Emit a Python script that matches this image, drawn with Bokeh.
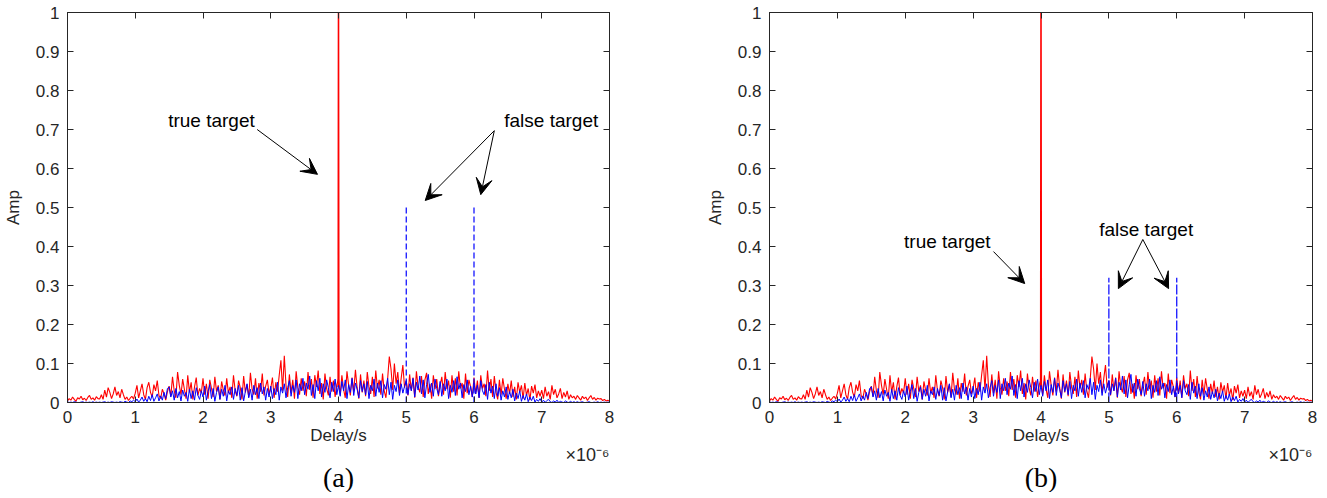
import numpy as np
from bokeh.plotting import figure
from bokeh.layouts import row
from bokeh.models import Range1d, LinearAxis, FixedTicker, Label, Arrow, VeeHead, Title
from bokeh.embed import file_html
from bokeh.resources import INLINE

# ---------------- data (amplitudes in thousandths, delay in microseconds) -------------
red_noise_milli = [
    4, 10, 6, 14, 8, 3, 12, 9, 16, 7, 11, 5, 13, 18, 8, 12, 6, 15, 10, 9,
    20, 8, 32, 14, 38, 26, 10, 22, 40, 18, 28, 12, 34, 20, 8, 14, 5, 11, 16, 9,
    24, 44, 12, 30, 48, 20, 8, 38, 52, 26, 14, 46, 30, 56, 18, 10, 34, 22, 6, 28,
    42, 16, 66, 30, 12, 78, 44, 20, 60, 34, 10, 70, 26, 52, 8, 40, 64, 18, 36, 24,
    62, 20, 48, 10, 58, 36, 14, 66, 28, 44, 8, 54, 32, 18, 62, 24, 40, 12, 70, 30,
    16, 56, 38, 8, 68, 26, 46, 14, 76, 34, 20, 62, 10, 50, 28, 74, 18, 42, 58, 22,
    36, 64, 12, 52, 28, 70, 108, 30, 120, 44, 14, 72, 24, 58, 10, 80, 38, 20, 62, 30,
    54, 16, 78, 32, 60, 12, 70, 40, 82, 22, 50, 8, 74, 36, 18, 66, 28, 56, 14, 46,
    60, 20, 70, 34, 12, 80, 44, 18, 64, 28, 84, 38, 10, 72, 26, 56, 16, 78, 40, 22,
    66, 14, 82, 36, 58, 20, 74, 30, 12, 60, 118, 86, 32, 100, 48, 78, 24, 62, 96, 38,
    56, 18, 72, 30, 64, 12, 80, 40, 26, 68, 14, 58, 76, 22, 48, 10, 70, 34, 60, 16,
    44, 66, 20, 78, 34, 56, 12, 70, 28, 62, 18, 80, 36, 50, 10, 74, 24, 58, 40, 14,
    64, 22, 56, 12, 70, 36, 48, 16, 82, 30, 60, 14, 68, 26, 8, 58, 20, 62, 34, 10,
    48, 22, 56, 14, 40, 8, 52, 26, 44, 10, 50, 18, 36, 6, 42, 24, 46, 12, 30, 16,
    32, 10, 40, 16, 28, 8, 44, 20, 34, 12, 22, 36, 10, 26, 14, 30, 8, 20, 12, 16,
    8, 18, 12, 6, 16, 10, 14, 5, 12, 18, 8, 13, 6, 11, 9, 10, 5, 8, 4, 6,
    3,
]
blue_noise_milli = [
    2, 0, 1, 0, 2, 1, 0, 0, 1, 2, 0, 1, 0, 1, 0, 2, 0, 1, 0, 1,
    0, 1, 2, 0, 1, 0, 2, 1, 0, 1, 0, 2, 1, 0, 3, 1, 0, 4, 2, 6,
    2, 9, 1, 6, 14, 3, 10, 2, 16, 5, 20, 3, 12, 22, 4, 17, 6, 26, 10, 36,
    40, 14, 30, 6, 36, 12, 28, 4, 32, 16, 26, 3, 34, 10, 30, 6, 38, 18, 8, 30,
    14, 42, 6, 28, 46, 10, 36, 3, 26, 40, 8, 34, 16, 44, 4, 30, 20, 40, 8, 36,
    18, 44, 6, 38, 4, 28, 48, 12, 34, 6, 44, 20, 38, 10, 50, 22, 40, 6, 36, 14,
    42, 10, 36, 20, 52, 6, 40, 24, 48, 12, 38, 56, 16, 44, 26, 58, 10, 48, 30, 62,
    20, 50, 34, 68, 18, 46, 10, 56, 30, 62, 14, 48, 26, 58, 38, 12, 52, 28, 60, 20,
    44, 16, 54, 30, 58, 10, 46, 26, 62, 18, 50, 34, 12, 56, 28, 48, 20, 54, 10, 44,
    30, 60, 16, 50, 26, 56, 12, 46, 34, 62, 20, 52, 8, 44, 28, 58, 18, 48, 24, 42,
    56, 20, 48, 30, 62, 14, 52, 32, 68, 22, 58, 12, 46, 72, 26, 50, 16, 60, 36, 20,
    54, 16, 48, 30, 60, 10, 44, 26, 56, 18, 66, 34, 50, 12, 46, 28, 58, 20, 42, 14,
    50, 22, 44, 12, 56, 30, 20, 46, 8, 52, 24, 42, 10, 48, 16, 38, 6, 30, 14, 40,
    8, 28, 12, 34, 4, 24, 10, 30, 3, 18, 6, 22, 2, 14, 5, 16, 1, 8, 3, 10,
    1, 6, 0, 5, 8, 2, 0, 4, 1, 6, 0, 3, 1, 0, 4, 1, 0, 3, 0, 2,
    0, 2, 0, 1, 2, 0, 0, 1, 2, 0, 0, 1, 0, 2, 0, 1, 0, 1, 0, 1,
    0,
]
delay_start, delay_end = 0.0, 8.0          # x axis, units of 1e-6 s

true_peak_delay = [3.995, 4.0, 4.005]
true_peak_amp = [0.04, 1.0, 0.04]

false_delays = [5.0, 6.0]
false_amp_a = 0.5
false_amp_b = 0.32

x_ticks = [0, 1, 2, 3, 4, 5, 6, 7, 8]
x_tick_labels = ["0", "1", "2", "3", "4", "5", "6", "7", "8"]
y_ticks = [0.0, 0.1, 0.2, 0.3, 0.4, 0.5, 0.6, 0.7, 0.8, 0.9, 1.0]
y_tick_labels = ["0", "0.1", "0.2", "0.3", "0.4", "0.5", "0.6", "0.7", "0.8", "0.9", "1"]
x_multiplier = "\u00d710\u207b\u2076"

# annotations: text position, arrow tail, arrow heads
ann_a = {
    "true_text": (2.125, 0.723), "true_tail": (2.80, 0.700), "true_head": (3.69, 0.585),
    "false_text": (7.14, 0.723), "false_tail": (6.30, 0.697),
    "false_heads": [(5.28, 0.518), (6.10, 0.533)],
}
ann_b = {
    "true_text": (2.62, 0.413), "true_tail": (3.30, 0.387), "true_head": (3.76, 0.305),
    "false_text": (5.55, 0.444), "false_tail": (5.50, 0.418),
    "false_heads": [(5.14, 0.292), (5.88, 0.292)],
}

SANS = "Liberation Sans"
SERIF = "Liberation Serif"
AXIS_COLOR = "#262626"


def make_panel(tag, false_amp, ann, left_border, frame_w, right_border):
    p = figure(
        output_backend="svg", toolbar_location=None,
        frame_width=frame_w, frame_height=390,
        min_border_left=left_border, min_border_right=right_border,
        min_border_top=12, min_border_bottom=40,
        x_range=Range1d(delay_start, delay_end), y_range=Range1d(0, 1),
        background_fill_color="white", border_fill_color="white",
    )
    p.outline_line_color = AXIS_COLOR
    p.grid.visible = False

    x = np.linspace(delay_start, delay_end, len(red_noise_milli))
    red = np.array(red_noise_milli) / 1000.0
    blue = np.array(blue_noise_milli) / 1000.0
    p.line(x, red, line_color="#ff0000", line_width=1.1)
    p.line(true_peak_delay, true_peak_amp, line_color="#ff0000", line_width=1.6)
    p.line(x, blue, line_color="#0000ff", line_width=1.0)
    for d in false_delays:
        p.line([d, d], [0, false_amp], line_color="#0000ff", line_width=1.2,
               line_dash="6 3" if tag == "(a)" else "10 2")

    # axes styling
    for ax in [p.xaxis[0], p.yaxis[0]]:
        ax.axis_line_color = AXIS_COLOR
        ax.major_tick_line_color = AXIS_COLOR
        ax.major_tick_in = 6
        ax.major_tick_out = 0
        ax.minor_tick_line_color = None
        ax.major_label_text_font = SANS
        ax.major_label_text_font_size = "17px"
        ax.major_label_text_color = AXIS_COLOR
        ax.axis_label_text_font = SANS
        ax.axis_label_text_font_size = "17px"
        ax.axis_label_text_font_style = "normal"
        ax.axis_label_text_color = AXIS_COLOR
    p.xaxis[0].ticker = FixedTicker(ticks=x_ticks)
    p.xaxis[0].major_label_overrides = dict(zip(x_ticks, x_tick_labels))
    p.yaxis[0].ticker = FixedTicker(ticks=y_ticks)
    p.yaxis[0].major_label_overrides = dict(zip(y_ticks, y_tick_labels))
    p.xaxis[0].axis_label = "Delay/s"
    p.yaxis[0].axis_label = "Amp"
    p.xaxis[0].major_label_standoff = 8
    p.xaxis[0].axis_label_standoff = 0
    p.yaxis[0].major_label_standoff = 8
    p.yaxis[0].axis_label_standoff = 10

    top = LinearAxis(ticker=FixedTicker(ticks=x_ticks))
    right = LinearAxis(ticker=FixedTicker(ticks=y_ticks))
    for ax, ticks in [(top, x_ticks), (right, y_ticks)]:
        ax.axis_line_color = AXIS_COLOR
        ax.major_tick_line_color = AXIS_COLOR
        ax.major_tick_in = 6
        ax.major_tick_out = 0
        ax.minor_tick_line_color = None
        ax.major_label_overrides = {t: "" for t in ticks}
        ax.major_label_standoff = 0
    p.add_layout(top, "above")
    p.add_layout(right, "right")

    # multiplier and panel tag below the x axis
    p.add_layout(Title(text=x_multiplier, align="right", text_font=SANS,
                       text_font_size="18px", text_font_style="normal",
                       text_color=AXIS_COLOR, standoff=-10, offset=0), "below")
    p.add_layout(Title(text=tag, align="center", text_font=SERIF,
                       text_font_size="28px", text_font_style="normal",
                       text_color="black", standoff=0), "below")

    # annotations
    tx, ty = ann["true_text"]
    p.add_layout(Label(x=tx, y=ty, text="true target", text_align="center",
                       text_baseline="middle", text_font=SANS, text_font_size="19px",
                       text_color="black"))
    fx, fy = ann["false_text"]
    p.add_layout(Label(x=fx, y=fy, text="false target", text_align="center",
                       text_baseline="middle", text_font=SANS, text_font_size="19px",
                       text_color="black"))
    (sx, sy), (ex, ey) = ann["true_tail"], ann["true_head"]
    p.add_layout(Arrow(x_start=sx, y_start=sy, x_end=ex, y_end=ey, line_width=1,
                       end=VeeHead(size=16, fill_color="black", line_color="black")))
    sx, sy = ann["false_tail"]
    for ex, ey in ann["false_heads"]:
        p.add_layout(Arrow(x_start=sx, y_start=sy, x_end=ex, y_end=ey, line_width=1,
                           end=VeeHead(size=16, fill_color="black", line_color="black")))
    return p


pa = make_panel("(a)", false_amp_a, ann_a, 65, 542, 93)
pb = make_panel("(b)", false_amp_b, ann_b, 64, 543, 20)
layout = row(pa, pb)

open("out.html", "w").write(file_html(layout, INLINE))
